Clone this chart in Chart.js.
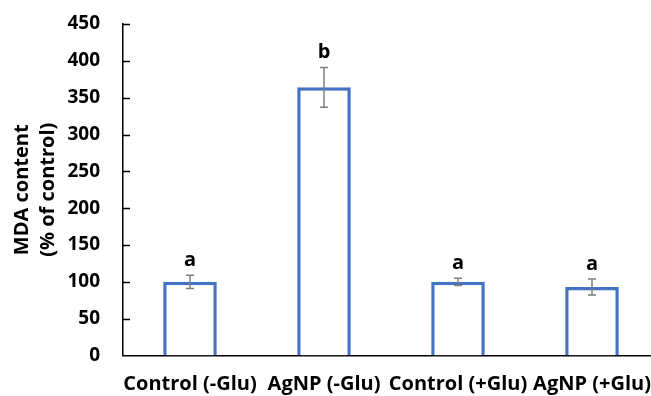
<!DOCTYPE html>
<html>
<head>
<meta charset="utf-8">
<script src="https://cdn.jsdelivr.net/npm/chart.js@4.4.1/dist/chart.umd.min.js"></script>
<style>
  html, body { margin: 0; padding: 0; background: #fff; overflow: hidden; }
  #wrap { width: 659px; height: 396px; }
</style>
</head>
<body>
<div id="wrap"><canvas id="mdaChart"></canvas></div>
<script>
// MDA content per treatment, % of control
var groups = ["Control (-Glu)", "AgNP (-Glu)", "Control (+Glu)", "AgNP (+Glu)"];
var mdaMeans = [100, 364, 100, 93];
var mdaErrors = [9, 27, 5, 11];
var groupLetters = ["a", "b", "a", "a"];
var yTicks = [0, 50, 100, 150, 200, 250, 300, 350, 400, 450];

var FONT = "'Open Sans', sans-serif";

// error bars + significance letters above each bar
var errorBarPlugin = {
  id: "errorBars",
  afterDatasetsDraw: function (chart) {
    var ctx = chart.ctx;
    var yScale = chart.scales.y;
    var meta = chart.getDatasetMeta(0);
    ctx.save();
    meta.data.forEach(function (bar, i) {
      var x = bar.x;
      var yTop = yScale.getPixelForValue(mdaMeans[i] + mdaErrors[i]);
      var yBot = yScale.getPixelForValue(mdaMeans[i] - mdaErrors[i]);
      ctx.strokeStyle = "#7f7f7f";
      ctx.lineWidth = 1.5;
      ctx.beginPath();
      ctx.moveTo(x, yTop);
      ctx.lineTo(x, yBot);
      ctx.moveTo(x - 4, yTop);
      ctx.lineTo(x + 4, yTop);
      ctx.moveTo(x - 4, yBot);
      ctx.lineTo(x + 4, yBot);
      ctx.stroke();

      ctx.fillStyle = "#000";
      ctx.font = "bold 20px " + FONT;
      ctx.textAlign = "center";
      ctx.textBaseline = "alphabetic";
      ctx.fillText(groupLetters[i], x, yTop - 9);
    });
    ctx.restore();
  },
};

// y ticks point into the plot area
var innerTicksPlugin = {
  id: "innerTicks",
  afterDraw: function (chart) {
    var ctx = chart.ctx;
    var yScale = chart.scales.y;
    var left = chart.chartArea.left;
    ctx.save();
    ctx.strokeStyle = "#000";
    ctx.lineWidth = 1.5;
    ctx.beginPath();
    yTicks.forEach(function (v) {
      if (v === 0) return;
      var y = Math.round(yScale.getPixelForValue(v)) + 0.5;
      ctx.moveTo(left, y);
      ctx.lineTo(left + 7, y);
    });
    ctx.stroke();
    ctx.restore();
  },
};

var ctx = document.getElementById("mdaChart").getContext("2d");
var mdaChart = new Chart(ctx, {
  type: "bar",
  data: {
    labels: groups,
    datasets: [
      {
        data: mdaMeans,
        backgroundColor: "#ffffff",
        borderColor: "#4472c4",
        borderWidth: 3.5,
        categoryPercentage: 0.4,
        barPercentage: 1,
      },
    ],
  },
  options: {
    responsive: true,
    maintainAspectRatio: false,
    animation: false,
    layout: { padding: { top: 24, left: 0, right: 0, bottom: 0 } },
    plugins: {
      legend: { display: false },
      tooltip: { enabled: false },
    },
    scales: {
      x: {
        grid: { display: false, drawTicks: false },
        border: { display: true, color: "#000", width: 1.5 },
        ticks: {
          color: "#000",
          padding: 17,
          maxRotation: 0,
          autoSkip: false,
          font: { family: FONT, size: 20, weight: "bold" },
        },
        afterFit: function (scale) {
          scale.height = 40.5;
          scale.paddingLeft = 0;
          scale.paddingRight = 0;
        },
      },
      y: {
        min: 0,
        max: 450,
        afterBuildTicks: function (scale) {
          scale.ticks = yTicks.map(function (v) {
            return { value: v };
          });
        },
        grid: { display: false, drawTicks: false },
        border: { display: true, color: "#000", width: 1.5 },
        ticks: {
          color: "#000",
          padding: 23,
          font: { family: FONT, size: 19, weight: "bold" },
        },
        title: {
          display: true,
          text: ["MDA content", "(% of control)"],
          color: "#000",
          padding: { top: 9, bottom: 0 },
          font: { family: FONT, size: 20, weight: "bold", lineHeight: 1.3 },
        },
        afterFit: function (scale) {
          scale.width = 123;
          scale.paddingTop = 0;
          scale.paddingBottom = 0;
        },
      },
    },
  },
  plugins: [errorBarPlugin, innerTicksPlugin],
});
</script>
</body>
</html>
